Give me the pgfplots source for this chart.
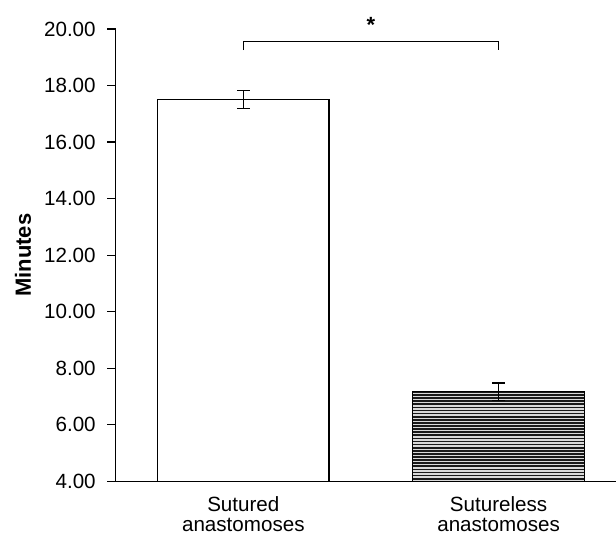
\documentclass[border=0pt]{standalone}
\usepackage{fontspec}
\setmainfont{Liberation Sans}
\usepackage{pgfplots}
\pgfplotsset{compat=1.18}
\usetikzlibrary{patterns}

% wide tile so no vertical seams show inside the bar
\pgfdeclarepatternformonly{hstripes}{\pgfpoint{-1pt}{0pt}}{\pgfpoint{201pt}{3.1pt}}{\pgfpoint{200pt}{3.1pt}}%
{\pgfsetlinewidth{1.7pt}\pgfpathmoveto{\pgfpoint{-1pt}{1.55pt}}\pgfpathlineto{\pgfpoint{201pt}{1.55pt}}\pgfusepath{stroke}}

\begin{document}
\begin{tikzpicture}
\begin{axis}[
    at={(0pt,0pt)}, anchor=south west,
    scale only axis, width=500.3pt, height=452.3pt,
    xmin=0.5, xmax=2.46, ymin=4, ymax=20,
    axis x line*=bottom, axis y line*=left,
    axis line style={line width=1.2pt, -},
    tick align=outside, major tick length=8.5pt,
    ytick={4,6,...,20},
    ytick style={line width=1.2pt, black},
    xtick={1,2}, xtick style={draw=none},
    xticklabels={Sutured\\anastomoses, Sutureless\\anastomoses},
    xticklabel style={align=center, font=\fontsize{20.6}{20}\selectfont,
        inner ysep=0.5pt, text depth=0pt, yshift=-6pt},
    yticklabel style={font=\fontsize{20.6}{22}\selectfont, xshift=-8pt,
        /pgf/number format/.cd, fixed, fixed zerofill, precision=2, assume math mode=true},
    ylabel={Minutes},
    ylabel style={at={(axis description cs:-0.1693,0.5)}, anchor=base,
        font=\fontsize{22}{24}\selectfont\bfseries},
]
% sutured
\addplot[ybar, bar shift=0pt, bar width=171.5pt, draw=black, line width=1.2pt, fill=white,
    error bars/.cd, y dir=both, y explicit,
    error bar style={line width=1.2pt, black},
    error mark options={rotate=90, mark size=6.5pt, line width=1.2pt, black}]
    coordinates {(1,17.5) +- (0,0.32)};
% sutureless
\addplot[ybar, bar shift=0pt, bar width=171.5pt, draw=black, line width=1.2pt, fill=black!15,
    postaction={pattern=hstripes, pattern color=black!90},
    error bars/.cd, y dir=both, y explicit,
    error bar style={line width=1.2pt, black},
    error mark options={rotate=90, mark size=6.5pt, line width=1.2pt, black}]
    coordinates {(2,7.17) +- (0,0.31)};
% significance bracket
\draw[line width=1.2pt] (axis cs:1,19.25) -- (axis cs:1,19.55) -- (axis cs:2,19.55) -- (axis cs:2,19.25);
\coordinate (star) at (axis cs:1.5,20.35);
\end{axis}
\node[font=\fontsize{22}{24}\selectfont\bfseries, anchor=center, yshift=-6pt] at (star) {*};
\pgfresetboundingbox
\path[use as bounding box] (-115.7pt,-51.7pt) rectangle (500.3pt,481.3pt);
\end{tikzpicture}
\end{document}
